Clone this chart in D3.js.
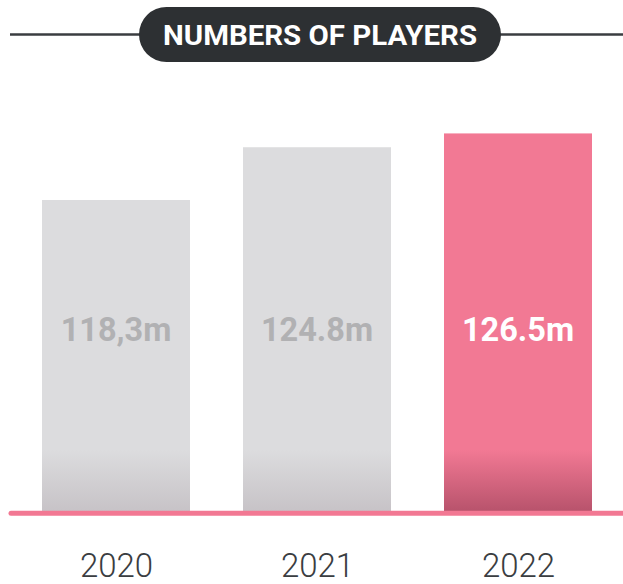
<!DOCTYPE html>
<html>
<head>
<meta charset="utf-8">
<script src="https://cdn.jsdelivr.net/npm/d3@7"></script>
<style>
  html, body { margin: 0; padding: 0; background: #ffffff; }
  svg { display: block; }
</style>
</head>
<body>
<svg id="chart" width="623" height="584"></svg>
<script>
// Player counts per year (millions)
const years = ["2020", "2021", "2022"];
const players = [118.3, 124.8, 126.5];
const valueLabels = ["118,3m", "124.8m", "126.5m"];
const highlightYear = "2022";
const titleText = "NUMBERS OF PLAYERS";

const W = 623, H = 584;
const svg = d3.select("#chart");

const baseY = 511;
const xPos = d3.scalePoint().domain(years).range([116, 518]);
const barW = 148;
const y = d3.scaleLinear().domain([80, 130]).range([baseY, 105]);

// Bottom shading gradients
const defs = svg.append("defs");
function grad(id, top, bottom) {
  const g = defs.append("linearGradient").attr("id", id)
    .attr("gradientUnits", "userSpaceOnUse")
    .attr("x1", 0).attr("x2", 0).attr("y1", 450).attr("y2", baseY);
  g.append("stop").attr("offset", 0).attr("stop-color", top);
  g.append("stop").attr("offset", 1).attr("stop-color", bottom);
}
grad("gGrey", "#dcdcde", "#c7c3c7");
grad("gPink", "#f27994", "#b8536c");

// Bars
svg.append("g").selectAll("rect").data(years).join("rect")
  .attr("x", d => xPos(d) - barW / 2)
  .attr("width", barW)
  .attr("y", (d, i) => y(players[i]))
  .attr("height", (d, i) => baseY - y(players[i]))
  .attr("fill", d => d === highlightYear ? "url(#gPink)" : "url(#gGrey)");

// Baseline
svg.append("line")
  .attr("x1", 11).attr("x2", W + 5)
  .attr("y1", 513.2).attr("y2", 513.2)
  .attr("stroke", "#f27893").attr("stroke-width", 5)
  .attr("stroke-linecap", "round");

// Value labels inside bars
svg.append("g").selectAll("text").data(years).join("text")
  .attr("x", d => xPos(d))
  .attr("y", 341)
  .attr("text-anchor", "middle")
  .attr("font-family", "Roboto, sans-serif")
  .attr("font-weight", 700)
  .attr("font-size", 32.5)
  .attr("fill", d => d === highlightYear ? "#ffffff" : "#b1b1b3")
  .text((d, i) => valueLabels[i]);

// Year axis labels
const axis = d3.axisBottom(xPos).tickSize(0).tickPadding(0);
const axG = svg.append("g").attr("transform", "translate(0,577)").call(axis);
axG.select(".domain").remove();
axG.selectAll("text")
  .attr("dy", 0)
  .attr("font-family", "Roboto, sans-serif")
  .attr("font-weight", 300)
  .attr("font-size", 33)
  .attr("fill", "#3a3d41");

// Title banner
const title = svg.append("g");
title.append("line").attr("x1", 10).attr("x2", 140).attr("y1", 34.5).attr("y2", 34.5)
  .attr("stroke", "#3a3d40").attr("stroke-width", 2.5);
title.append("line").attr("x1", 500).attr("x2", W).attr("y1", 34.5).attr("y2", 34.5)
  .attr("stroke", "#3a3d40").attr("stroke-width", 2.5);
title.append("rect").attr("x", 139).attr("y", 7).attr("width", 362).attr("height", 55)
  .attr("rx", 27.5).attr("fill", "#2d3033");
const tt = title.append("text").attr("x", 320).attr("y", 45)
  .attr("text-anchor", "middle")
  .attr("font-family", "Roboto, sans-serif")
  .attr("font-weight", 700)
  .attr("font-size", 28)
  .attr("fill", "#ffffff")
  .text(titleText);
const tw = tt.node().getComputedTextLength();
if (Math.abs(tw - 314) > 3) tt.attr("textLength", 314).attr("lengthAdjust", "spacingAndGlyphs");
</script>
</body>
</html>
